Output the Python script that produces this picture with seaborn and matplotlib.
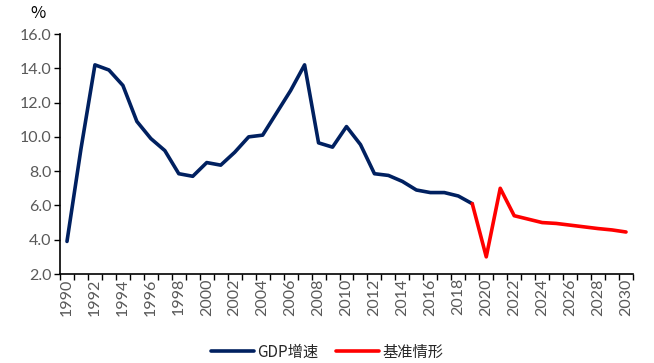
import numpy as np
import pandas as pd
import matplotlib
matplotlib.use("Agg")
import matplotlib.pyplot as plt
import seaborn as sns

years_hist = list(range(1990, 2020))
gdp_growth = [3.9, 9.3, 14.2, 13.9, 13.0, 10.9, 9.9, 9.2, 7.85, 7.7,
              8.5, 8.35, 9.1, 10.0, 10.1, 11.4, 12.7, 14.2, 9.65, 9.4,
              10.6, 9.55, 7.85, 7.75, 7.4, 6.9, 6.75, 6.75, 6.55, 6.1]
years_base = list(range(2019, 2031))
baseline = [6.1, 3.0, 7.0, 5.4, 5.2, 5.0, 4.95, 4.85, 4.75, 4.65, 4.57, 4.45]
all_years = list(range(1990, 2031))
series_names = ["GDP增速", "基准情形"]
y_ticks = [2.0, 4.0, 6.0, 8.0, 10.0, 12.0, 14.0, 16.0]

sns.set_theme(style="white")
plt.rcParams['font.family'] = ['Noto Sans CJK SC', 'DejaVu Sans']

df = pd.concat([
    pd.DataFrame({"pos": [y - 1990 for y in years_hist], "val": gdp_growth, "series": series_names[0]}),
    pd.DataFrame({"pos": [y - 1990 for y in years_base], "val": baseline, "series": series_names[1]}),
])

fig = plt.figure(figsize=(6.54, 3.63), dpi=100)
ax = fig.add_axes([60/654, 1 - 274/363, (633 - 60)/654, (274 - 34)/363])
sns.lineplot(data=df, x="pos", y="val", hue="series",
             palette={series_names[0]: "#002060", series_names[1]: "#FF0000"},
             linewidth=2.6, ax=ax, sort=False)

ax.set_xlim(-0.5, len(all_years) - 0.5)
ax.set_ylim(2.0, 16.0)
ax.set_yticks(y_ticks)
ax.set_yticklabels([f"{v:.1f}" for v in y_ticks], fontsize=11.5, color="#595959",
                   family=['Lato', 'DejaVu Sans'])
lab_pos = [i for i, y in enumerate(all_years) if y % 2 == 0]
ax.set_xticks(lab_pos)
ax.set_xticklabels([str(all_years[i]) for i in lab_pos], rotation=90, fontsize=11.5,
                   color="#595959", family=['Lato', 'DejaVu Sans'])
ax.set_xticks(np.arange(-0.5, len(all_years), 1.0), minor=True)
ax.tick_params(axis="x", which="major", length=0, pad=3)
ax.tick_params(axis="x", which="minor", length=4, width=1, color="black", direction="out", bottom=True)
ax.tick_params(axis="y", which="major", length=4, width=1, color="black", direction="out", left=True, pad=2)
ax.set_xlabel("")
ax.set_ylabel("")
for s in ["top", "right"]:
    ax.spines[s].set_visible(False)
for s in ["left", "bottom"]:
    ax.spines[s].set_color("black")
    ax.spines[s].set_linewidth(1.2)

handles, labels = ax.get_legend_handles_labels()
ax.legend(handles, labels, loc="center", bbox_to_anchor=(0.5, (363 - 352) / 363),
          bbox_transform=fig.transFigure, ncol=2, frameon=False, fontsize=11,
          handlelength=2.8, columnspacing=1.2, handletextpad=0.2)

fig.text(38/654, 1 - 14/363, "%", fontsize=12, ha="center", va="center", color="black")

fig.savefig("out.png", dpi=100)
